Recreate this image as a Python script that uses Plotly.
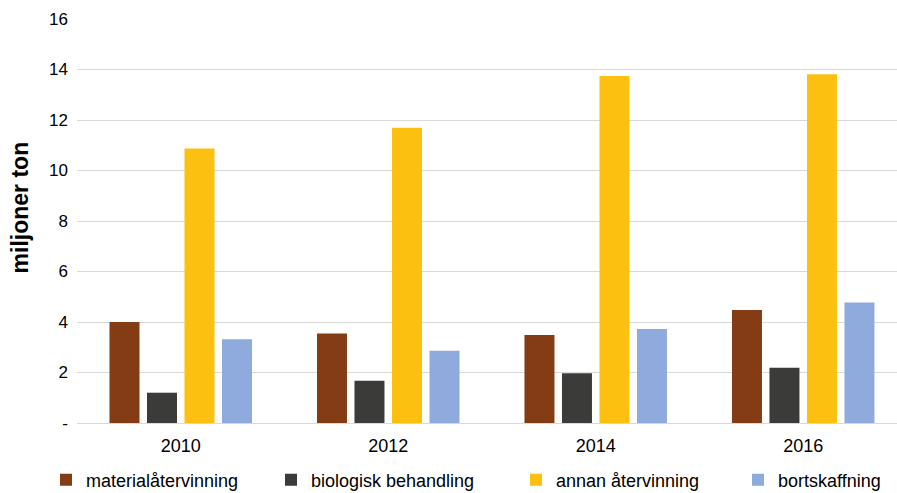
import plotly.graph_objects as go

years = ["2010", "2012", "2014", "2016"]
materialatervinning = [4.00, 3.54, 3.49, 4.48]
biologisk_behandling = [1.20, 1.67, 1.97, 2.19]
annan_atervinning = [10.87, 11.69, 13.74, 13.81]
bortskaffning = [3.32, 2.86, 3.72, 4.77]

series_names = ["materialåtervinning", "biologisk behandling", "annan återvinning", "bortskaffning"]
series_values = [materialatervinning, biologisk_behandling, annan_atervinning, bortskaffning]
colors = ["#843c15", "#3b3b3a", "#fcc010", "#8faadc"]

y_tickvals = [0, 2, 4, 6, 8, 10, 12, 14, 16]
y_ticktext = ["-", "2", "4", "6", "8", "10", "12", "14", "16"]

FONT = "Liberation Sans, Arial, sans-serif"
W, H = 897, 493

legend_ids = ["legend", "legend2", "legend3", "legend4"]
legend_px = [46, 271, 516, 738]

fig = go.Figure()
for name, vals, col, lid in zip(series_names, series_values, colors, legend_ids):
    fig.add_trace(go.Bar(x=years, y=vals, name=name, legend=lid,
                         marker=dict(color=col, line=dict(width=0))))

layout_legends = {}
for lid, px in zip(legend_ids, legend_px):
    layout_legends[lid] = dict(orientation="h", xref="container", yref="container",
                               x=px / W, xanchor="left", y=(H - 480) / H, yanchor="middle",
                               font=dict(size=18, family=FONT), itemwidth=30,
                               bgcolor="rgba(0,0,0,0)")

fig.update_layout(
    width=W, height=H,
    margin=dict(l=77, r=0, t=19, b=70),
    paper_bgcolor="white", plot_bgcolor="white",
    barmode="group", bargap=0.277, bargroupgap=0.2,
    font=dict(family=FONT, size=17, color="#000000"),
    showlegend=True,
    annotations=[dict(text="<b>miljoner ton</b>", textangle=-90,
                      xref="paper", x=-0.0698, xanchor="center",
                      yref="paper", y=0.533, yanchor="middle",
                      showarrow=False, font=dict(size=23, family=FONT))],
    **layout_legends,
)
fig.update_xaxes(type="category", range=[-0.5, 3.452], showgrid=False,
                 showline=False, ticks="", tickfont=dict(size=18),
                 ticklabelstandoff=10)
fig.update_yaxes(range=[0, 16], tickvals=y_tickvals, ticktext=y_ticktext,
                 showgrid=True, gridcolor="#d9d9d9", gridwidth=1,
                 zeroline=True, zerolinecolor="#d9d9d9", zerolinewidth=1,
                 showline=False, ticks="", tickfont=dict(size=17),
                 ticklabelstandoff=8)

fig.write_html("out.html")
